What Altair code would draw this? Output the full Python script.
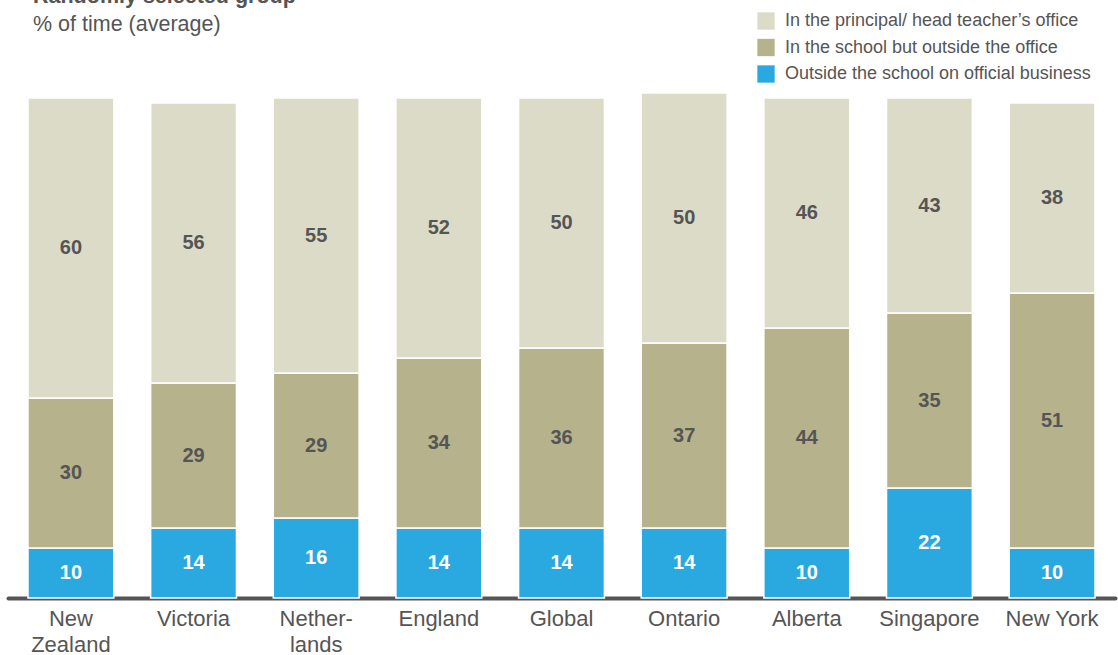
import altair as alt
import pandas as pd

regions = ["New Zealand", "Victoria", "Netherlands", "England", "Global",
           "Ontario", "Alberta", "Singapore", "New York"]
outside_school = [10, 14, 16, 14, 14, 14, 10, 22, 10]
in_school = [30, 29, 29, 34, 36, 37, 44, 35, 51]
in_office = [60, 56, 55, 52, 50, 50, 46, 43, 38]

series = ["In the principal/ head teacher\u2019s office",
          "In the school but outside the office",
          "Outside the school on official business"]
colors = ["#DCDBC8", "#B5B28C", "#29A9E0"]

rows = []
for i, r in enumerate(regions):
    for s, vals, order in [(series[2], outside_school, 0), (series[1], in_school, 1), (series[0], in_office, 2)]:
        rows.append({"region": r, "series": s, "value": vals[i], "order": order})
df = pd.DataFrame(rows)

label_expr = ("datum.value == 'New Zealand' ? ['New', 'Zealand'] : "
              "datum.value == 'Netherlands' ? ['Nether-', 'lands'] : datum.value")

x = alt.X("region:N", sort=regions, title=None,
          scale=alt.Scale(paddingInner=0.3, paddingOuter=0.163),
          axis=alt.Axis(labelExpr=label_expr, labelAngle=0, labelFontSize=22,
                        labelColor="#555555", labelFont="Liberation Sans",
                        labelPadding=10, ticks=False, domainColor="#555555",
                        domainWidth=4, domainCap="round", labelLineHeight=26))

base = alt.Chart(df)

bars = base.mark_bar(stroke="white", strokeWidth=1.5).encode(
    x=x,
    y=alt.Y("value:Q", stack="zero", scale=alt.Scale(domain=[0, 100], nice=False), axis=None),
    color=alt.Color("series:N", scale=alt.Scale(domain=series, range=colors),
                    legend=alt.Legend(title=None, orient="none", legendX=749, legendY=-86,
                                      symbolType="square", symbolSize=300, symbolStrokeWidth=0,
                                      labelFontSize=18, labelColor="#555555",
                                      labelFont="Liberation Sans", rowPadding=8.5,
                                      labelOffset=10, labelLimit=0, symbolOpacity=1)),
    order=alt.Order("order:Q"),
)

text = base.mark_text(fontSize=20, fontWeight="bold", font="Liberation Sans").encode(
    x=alt.X("region:N", sort=regions),
    y=alt.Y("mid:Q"),
    text="value:Q",
    color=alt.condition("datum.order == 0", alt.value("white"), alt.value("#555555")),
).transform_stack(
    stack="value", groupby=["region"], as_=["y0", "y1"], sort=[alt.SortField("order")]
).transform_calculate(mid="(datum.y0 + datum.y1) / 2")

chart = alt.layer(bars, text).properties(
    width=1107, height=500,
    title=alt.TitleParams("Randomly selected group", subtitle="% of time (average)",
                          anchor="start", frame="group", dx=25, offset=-23,
                          font="Liberation Sans", fontSize=21.5, fontWeight="bold",
                          color="#555555", subtitleFont="Liberation Sans",
                          subtitleFontSize=21.5, subtitleColor="#555555", subtitlePadding=6),
    autosize=alt.AutoSizeParams(type="none"),
    padding={"left": 8, "top": 98, "right": 3, "bottom": 57},
).configure_view(stroke=None)

chart.save("out.html", embed_options={"renderer": "svg", "actions": False})
